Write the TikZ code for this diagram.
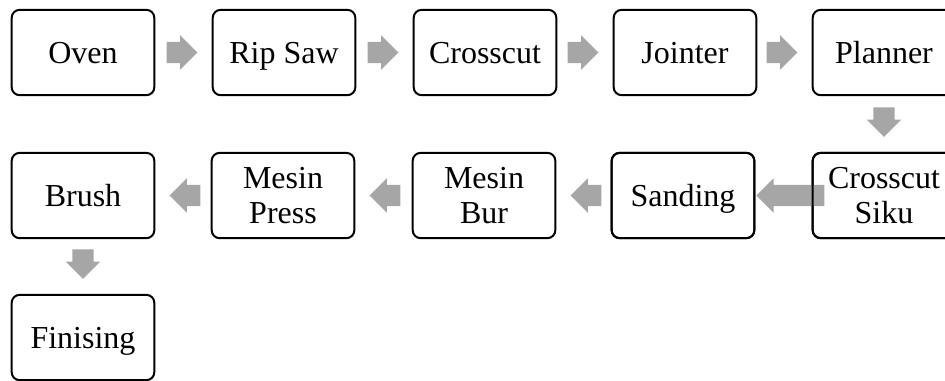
\documentclass[tikz,border=0pt]{standalone}
\usepackage{fontspec}
\setmainfont{Liberation Serif}
\usetikzlibrary{shapes.arrows,calc}
\newcommand{\bx}[1]{\raisebox{0pt}[20.4pt][4.5pt]{#1}}
\begin{document}
\begin{tikzpicture}[x=0.75pt,y=-0.75pt,
  stepbox/.style={draw=black, line width=1.5pt, rounded corners=6pt,
    minimum width=107pt, minimum height=64pt, inner sep=0pt, align=center,
    font=\fontsize{24}{24.8}\selectfont},
  garrow/.style={shape=single arrow, fill=arrgray, draw=none, inner sep=0pt,
    minimum width=0pt, single arrow head extend=5pt, minimum height=23pt,
    single arrow head indent=0pt, anchor=tip},
  rarr/.style={garrow},
  larr/.style={garrow, rotate=180},
  darr/.style={garrow, rotate=270, minimum height=22pt},
]
\definecolor{arrgray}{HTML}{A6A6A6}
\newcommand{\shaft}{\rule{0pt}{15.5pt}}
\useasboundingbox (0,0) rectangle (945,380);
\clip (0,0) rectangle (945,380);
% boxes
\node[stepbox] (oven) at (83,52.5) {\bx{Oven}};
\node[stepbox] (rip) at (284,52.5) {\bx{Rip Saw}};
\node[stepbox] (cross) at (485,52.5) {\bx{Crosscut}};
\node[stepbox] (joint) at (685,52.5) {\bx{Jointer}};
\node[stepbox] (plan) at (884,52.5) {\bx{Planner}};
\node[stepbox] (cs) at (884,195.5) {\bx{Crosscut}\\\bx{Siku}};
\node[stepbox] (sand) at (683,195.5) {\bx{Sanding}};
\node[stepbox] (bur) at (484,195.5) {\bx{Mesin}\\\bx{Bur}};
\node[stepbox] (press) at (283,195.5) {\bx{Mesin}\\\bx{Press}};
\node[stepbox] (brush) at (83,195.5) {\bx{Brush}};
\node[stepbox] (fin) at (83,337.5) {\bx{Finising}};
% connectors (gray block arrows)
\node[rarr] (a1) at ([xshift=-10.5pt]rip.west) {\shaft};
\node[rarr] (a2) at ([xshift=-10.5pt]cross.west) {\shaft};
\node[rarr] (a3) at ([xshift=-10.5pt]joint.west) {\shaft};
\node[rarr] (a4) at ([xshift=-10.5pt]plan.west) {\shaft};
\node[darr] (a5) at ([yshift=11pt]cs.north) {\shaft};
\node[larr, minimum height=51pt] (a6) at ([xshift=0.5pt]sand.east) {\shaft};
\node[larr] (a7) at ([xshift=10.5pt]bur.east) {\shaft};
\node[larr] (a8) at ([xshift=10.5pt]press.east) {\shaft};
\node[larr] (a9) at ([xshift=10.5pt]brush.east) {\shaft};
\node[darr] (a10) at ([yshift=11pt]fin.north) {\shaft};
% redraw borders over the big arrow
\node[stepbox, fill=none] at (cs) {\phantom{\bx{Crosscut}}\\\phantom{\bx{Siku}}};
\node[stepbox, fill=none] at (sand) {\phantom{\bx{Sanding}}};
\end{tikzpicture}
\end{document}
